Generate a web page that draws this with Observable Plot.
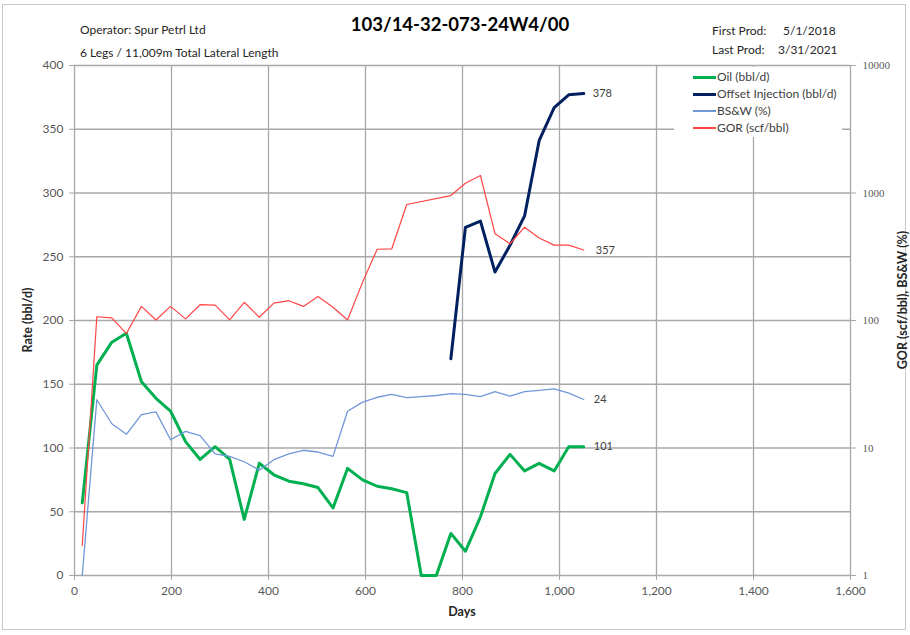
<!DOCTYPE html>
<html><head><meta charset="utf-8">
<script src="https://cdn.jsdelivr.net/npm/d3@7"></script>
<script src="https://cdn.jsdelivr.net/npm/@observablehq/plot@0.6"></script>
<style>
body{margin:0;background:#fff;font-family:Lato,"Open Sans",sans-serif;}
#wrap{position:relative;width:910px;height:635px;overflow:hidden;background:#fff}
.frame{position:absolute;left:2px;top:4px;width:904px;height:626px;border:1px solid #c8c8c8;box-sizing:border-box}
.t{position:absolute;white-space:nowrap;color:#262626;line-height:1}
.layer{position:absolute;left:0;top:0}
#legend{position:absolute;left:674px;top:67px;width:168px;height:70px;background:#fff}
.lg{position:absolute;left:0;height:14px;font-size:12px;color:#404040;white-space:nowrap}
.lg span.s{position:absolute;left:19px;width:23px;display:block}
.lg span.l{position:absolute;left:43px;top:0;line-height:14px}
.ax{position:absolute;font-weight:bold;font-size:12.5px;color:#262626;white-space:nowrap;line-height:1}
</style></head>
<body>
<div id="wrap">
  <div class="frame"></div>
  <div id="p1" class="layer"></div>
  <div id="p2" class="layer"></div>
  <div class="t" style="left:0;width:920px;text-align:center;top:15px;font-size:18.5px;font-weight:bold;color:#000">103/14-32-073-24W4/00</div>
  <div class="t" style="left:80px;top:24px;font-size:12px">Operator: Spur Petrl Ltd</div>
  <div class="t" style="left:80px;top:47px;font-size:12px">6 Legs / 11,009m Total Lateral Length</div>
  <div class="t" style="left:712px;top:25px;font-size:12px">First Prod:</div>
  <div class="t" style="left:783px;top:25px;font-size:12px">5/1/2018</div>
  <div class="t" style="left:712px;top:44px;font-size:12px">Last Prod:</div>
  <div class="t" style="left:778px;top:44px;font-size:12px">3/31/2021</div>
  <div class="ax" style="left:28px;top:320px;transform:translate(-50%,-50%) rotate(-90deg)">Rate (bbl/d)</div>
  <div class="ax" style="left:903px;top:300px;transform:translate(-50%,-50%) rotate(-90deg)">GOR (scf/bbl), BS&amp;W (%)</div>
  <div class="ax" style="left:462px;top:612px;transform:translate(-50%,-50%)">Days</div>
  <div id="legend"></div>
</div>
<script>
// ---- data ----
const days = [16,46,77,107,138,168,198,229,259,290,320,350,381,411,442,472,502,533,563,594,624,654,685,715,746,776,806,837,867,898,928,958,989,1019,1050];
const oil = [57,165,183,190,152,139,129,105,91,101,91,44,88,79,74,72,69,53,84,75,70,68,65,0,0,33,19,46,80,95,82,88,82,101,101];
const injection = [null,null,null,null,null,null,null,null,null,null,null,null,null,null,null,null,null,null,null,null,null,null,null,null,null,170,273,278,238,259,282,341,367,377,378];
const bsw = [1,23.9,15.5,12.8,18.3,19.2,11.6,13.5,12.5,9.0,8.6,7.8,6.7,8.1,9.0,9.6,9.3,8.6,19.4,22.9,25.0,26.3,24.8,25.3,25.8,26.7,26.3,25.3,27.7,25.5,27.7,28.3,29.1,26.9,24];
const gor = [1.72,107,105,79,129,101,129,103,133,132,101,139,106,137,143,129,154,127,101,200,362,364,812,null,null,955,1194,1372,480,400,539,444,390,390,357];
const xTicks = [0,200,400,600,800,1000,1200,1400,1600];
const yTicks = [0,50,100,150,200,250,300,350,400];
const logTicks = [1,10,100,1000,10000];
const seriesNames = ["Oil (bbl/d)","Offset Injection (bbl/d)","BS&W (%)","GOR (scf/bbl)"];
const endLabels = ["101","378","24","357"];

const colors = {oil:"#00b050", inj:"#002060", bsw:"#7097d9", gor:"#ff4545"};
const W = 910, H = 635;
const margins = {marginTop:65, marginRight:60, marginBottom:60, marginLeft:74};
const rows = days.map((d,i)=>({day:d, oil:oil[i], inj:injection[i], bsw:bsw[i], gor:gor[i]}));
const injRows = rows.filter(d=>d.inj!=null);
const gorRows = rows.filter(d=>d.gor!=null);
const last = rows[rows.length-1];

const p1 = Plot.plot({
  width:W, height:H, ...margins,
  style:{background:"transparent", fontFamily:"Lato, sans-serif", fontSize:"12px", color:"#595959", overflow:"visible"},
  x:{domain:[0,1600]},
  y:{domain:[0,400]},
  marks:[
    Plot.gridX(xTicks,{stroke:"#a8a8a8", strokeOpacity:1, strokeWidth:1.3}),
    Plot.gridY(yTicks,{stroke:"#a8a8a8", strokeOpacity:1, strokeWidth:1.3}),
    Plot.axisY(yTicks,{label:null, tickSize:5, tickPadding:6, stroke:"#a8a8a8", fill:"#595959"}),
    Plot.axisX(xTicks,{label:null, tickSize:5, tickPadding:6, stroke:"#a8a8a8", fill:"#595959", tickFormat:d3.format(",")}),
    Plot.line(rows,{x:"day", y:"oil", stroke:colors.oil, strokeWidth:3}),
    Plot.line(injRows,{x:"day", y:"inj", stroke:colors.inj, strokeWidth:3}),
    Plot.text([last],{x:"day", y:"oil", text:()=>endLabels[0], dx:10, textAnchor:"start", fill:"#404040", fontSize:11}),
    Plot.text([last],{x:"day", y:"inj", text:()=>endLabels[1], dx:9, textAnchor:"start", fill:"#404040", fontSize:11})
  ]
});
document.getElementById("p1").append(p1);

const p2 = Plot.plot({
  width:W, height:H, ...margins,
  style:{background:"transparent", fontFamily:"Lato, sans-serif", fontSize:"11px", color:"#595959", overflow:"visible"},
  x:{domain:[0,1600], axis:null},
  y:{type:"log", domain:[1,10000], axis:null},
  marks:[
    Plot.axisY(logTicks,{anchor:"right", label:null, tickSize:5, tickPadding:7, stroke:"#a8a8a8", fill:"#595959", tickFormat:d=>String(d), fontFamily:"Liberation Serif, serif", fontSize:11}),
    Plot.line(rows,{x:"day", y:"bsw", stroke:colors.bsw, strokeWidth:1.3}),
    Plot.line(gorRows,{x:"day", y:"gor", stroke:colors.gor, strokeWidth:1.2}),
    Plot.text([last],{x:"day", y:"bsw", text:()=>endLabels[2], dx:10, textAnchor:"start", fill:"#404040", fontSize:11}),
    Plot.text([last],{x:"day", y:"gor", text:()=>endLabels[3], dx:12, textAnchor:"start", fill:"#404040", fontSize:11})
  ]
});
document.getElementById("p2").append(p2);

// legend
const lg = document.getElementById("legend");
const lgStyle = [[colors.oil,3],[colors.inj,3],[colors.bsw,1.5],[colors.gor,1.5]];
seriesNames.forEach((n,i)=>{
  const r = document.createElement("div");
  r.className = "lg";
  r.style.top = (3 + i*17) + "px";
  const s = document.createElement("span");
  s.className = "s";
  s.style.height = lgStyle[i][1] + "px";
  s.style.top = (7 - lgStyle[i][1]/2) + "px";
  s.style.background = lgStyle[i][0];
  const l = document.createElement("span");
  l.className = "l";
  l.textContent = n;
  r.append(s,l);
  lg.append(r);
});
</script>
</body></html>
